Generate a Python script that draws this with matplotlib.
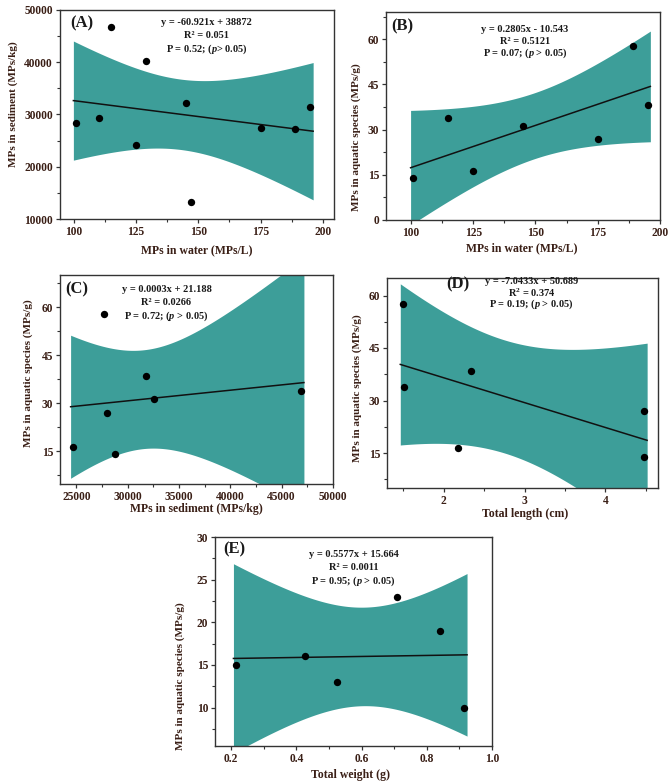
import numpy as np
import matplotlib
matplotlib.use('Agg')
import matplotlib.pyplot as plt
from matplotlib.ticker import MultipleLocator

plt.rcParams['font.family'] = ['Liberation Serif', 'DejaVu Serif']
plt.rcParams['font.weight'] = 'bold'
plt.rcParams['mathtext.fontset'] = 'custom'
plt.rcParams['mathtext.rm'] = 'Liberation Serif:bold'
plt.rcParams['mathtext.it'] = 'Liberation Serif:bold:italic'
plt.rcParams['mathtext.bf'] = 'Liberation Serif:bold'

# ---- data
water_a = [101, 110, 115, 125, 129, 145, 147, 175, 189, 195]
sediment_a = [28300, 29300, 46700, 24200, 40200, 32200, 13300, 27500, 27200, 31400]

water_b = [101, 115, 125, 145, 175, 189, 195]
species_b = [14.0, 33.9, 16.3, 31.2, 26.9, 57.7, 38.3]

sediment_c = [24700, 27700, 28000, 28800, 31800, 32600, 46900]
species_c = [16.3, 57.7, 26.9, 14.0, 38.3, 31.2, 33.9]

length_d = [1.50, 1.51, 2.18, 2.34, 4.48, 4.48]
species_d = [57.7, 33.9, 16.3, 38.3, 26.9, 14.0]

weight_e = [0.215, 0.425, 0.525, 0.71, 0.84, 0.915]
species_e = [15, 16, 13, 23, 19, 10]

eq_a = ['y = -60.921x + 38872', 'R² = 0.051', 'P = 0.52; ($p$> 0.05)']
eq_b = ['y = 0.2805x - 10.543', 'R² = 0.5121', 'P = 0.07; ($p$ > 0.05)']
eq_c = ['y = 0.0003x + 21.188', 'R² = 0.0266', 'P = 0.72; ($p$ > 0.05)']
eq_d = ['y = -7.0433x + 50.689', 'R$^2$ = 0.374', 'P = 0.19; ($p$ > 0.05)']
eq_e = ['y = 0.5577x + 15.664', 'R² = 0.0011', 'P = 0.95; ($p$ > 0.05)']

# two-sided 95% t values by degrees of freedom
t95 = {4: 2.776, 5: 2.571, 8: 2.306}

band_color = '#3d9e99'
label_color = '#3a1f16'
W, H = 669, 784


def add_axes(fig, l, r, t, b):
    return fig.add_axes([l / W, 1 - b / H, (r - l) / W, (b - t) / H])


def fit_panel(ax, x, y):
    x = np.asarray(x, float)
    y = np.asarray(y, float)
    n = len(x)
    slope, icpt = np.polyfit(x, y, 1)
    resid = y - (slope * x + icpt)
    s = np.sqrt(np.sum(resid ** 2) / (n - 2))
    sxx = np.sum((x - x.mean()) ** 2)
    pad = 0.012 * (x.max() - x.min())
    xs = np.linspace(x.min() - pad, x.max() + pad, 200)
    yhat = slope * xs + icpt
    half = t95[n - 2] * s * np.sqrt(1 / n + (xs - x.mean()) ** 2 / sxx)
    ax.fill_between(xs, yhat - half, yhat + half, color=band_color, lw=0, zorder=1)
    ax.plot(xs, yhat, color='#111111', lw=1.1, zorder=2)
    ax.scatter(x, y, s=28, color='black', zorder=3, linewidths=0)


def style(ax, xlim, ylim, xmaj, ymaj, xlabel, ylabel, xl, yl):
    ax.set_xlim(*xlim)
    ax.set_ylim(*ylim)
    ax.xaxis.set_major_locator(MultipleLocator(xmaj))
    ax.xaxis.set_minor_locator(MultipleLocator(xmaj / 2))
    ax.yaxis.set_major_locator(MultipleLocator(ymaj))
    ax.yaxis.set_minor_locator(MultipleLocator(ymaj / 2))
    ax.tick_params(which='major', direction='out', length=3, width=0.9,
                   labelsize=8.3, pad=2, colors='#333333', labelcolor=label_color)
    ax.tick_params(which='minor', direction='out', length=2, width=0.8, colors='#333333')
    for sp in ax.spines.values():
        sp.set_color('#333333')
        sp.set_linewidth(1.0)
    ax.set_xlabel(xlabel, fontsize=8.5, fontweight='bold', color=label_color, va='center')
    ax.set_ylabel(ylabel, fontsize=8, fontweight='bold', color=label_color, va='center')
    ax.xaxis.set_label_coords(*xl)
    ax.yaxis.set_label_coords(*yl)


def annotate(ax, tag, tagpos, lines, cx, ys):
    ax.text(tagpos[0], tagpos[1], tag, transform=ax.transAxes, fontsize=12,
            fontweight='bold', ha='center', va='center', color='#1a1a1a', zorder=5)
    for line, yy in zip(lines, ys):
        ax.text(cx, yy, line, transform=ax.transAxes, fontsize=7.5, fontweight='bold',
                ha='center', va='center', color='#1a1a1a', zorder=5)


fig = plt.figure(figsize=(6.69, 7.84), dpi=100)

# ---- (A)
ax = add_axes(fig, 60, 334, 10, 219)
fit_panel(ax, water_a, sediment_a)
style(ax, (94.5, 204.5), (10000, 50000), 25, 10000,
      'MPs in water (MPs/L)', 'MPs in sediment (MPs/kg)', (0.5, -0.152), (-0.17, 0.55))
annotate(ax, '(A)', (0.08, 0.935), eq_a, 0.536, [0.938, 0.88, 0.813])

# ---- (B)
ax = add_axes(fig, 386, 660, 12, 220)
fit_panel(ax, water_b, species_b)
style(ax, (90, 200), (0, 69), 25, 15,
      'MPs in water (MPs/L)', 'MPs in aquatic species (MPs/g)', (0.495, -0.136), (-0.109, 0.40))
annotate(ax, '(B)', (0.06, 0.93), eq_b, 0.507, [0.917, 0.857, 0.80])

# ---- (C)
ax = add_axes(fig, 60, 333, 275, 484)
fit_panel(ax, sediment_c, species_c)
style(ax, (23400, 50000), (4.7, 70), 5000, 15,
      'MPs in sediment (MPs/kg)', 'MPs in aquatic species (MPs/g)', (0.5, -0.118), (-0.117, 0.53))
annotate(ax, '(C)', (0.06, 0.93), eq_c, 0.39, [0.931, 0.869, 0.804])

# ---- (D)
ax = add_axes(fig, 387, 658, 278, 488)
fit_panel(ax, length_d, species_d)
style(ax, (1.3, 4.65), (5, 65), 1, 15,
      'Total length (cm)', 'MPs in aquatic species (MPs/g)', (0.51, -0.122), (-0.111, 0.476))
annotate(ax, '(D)', (0.263, 0.97), eq_d, 0.534, [0.984, 0.929, 0.873])

# ---- (E)
ax = add_axes(fig, 215, 492, 537, 746)
fit_panel(ax, weight_e, species_e)
style(ax, (0.15, 1.0), (5.5, 30), 0.2, 5,
      'Total weight (g)', 'MPs in aquatic species (MPs/g)', (0.49, -0.139), (-0.126, 0.336))
annotate(ax, '(E)', (0.07, 0.94), eq_e, 0.5, [0.916, 0.852, 0.788])

fig.savefig('out.png', dpi=100, facecolor='white')
